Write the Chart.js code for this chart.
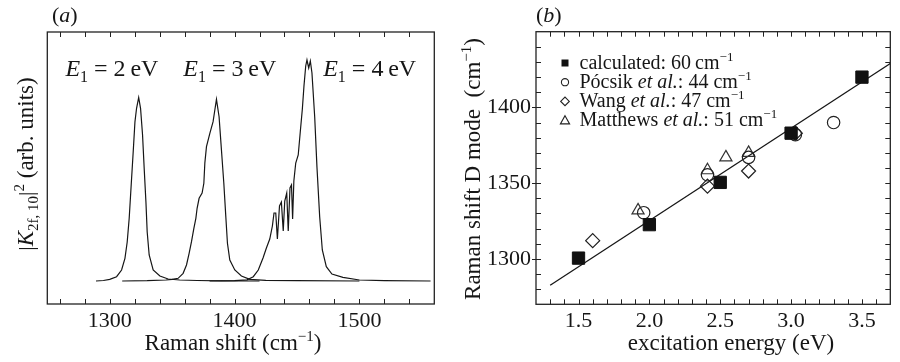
<!DOCTYPE html>
<html><head><meta charset="utf-8">
<script src="https://cdn.jsdelivr.net/npm/chart.js"></script>
<style>
html,body{margin:0;padding:0;background:#fff;width:900px;height:362px;overflow:hidden}
.w{position:absolute;top:0;width:450px;height:362px}
#wa{left:0}#wb{left:450px}
</style></head><body>
<div class="w" id="wa"><canvas id="ca" width="450" height="362"></canvas></div>
<div class="w" id="wb"><canvas id="cb" width="450" height="362"></canvas></div>
<script>
// ---------- Panel (a): spectra ----------
const shiftE2 = [1289,1295,1300,1305.5,1309.5,1312.2,1314,1315.6,1317.2,1318.8,1320.2,1321.5,1323.2,1324.7,1326.3,1327.6,1329,1330,1331.6,1334.8,1340.2,1346.8,1356,1370,1390,1420];
const intE2   = [0,0.5,1.7,4.3,11,22.7,39,62.7,96,129,159,172.7,183.5,172.7,146,112.7,79.3,49.3,26,11,5,2,1,0.5,0.2,0];
const shiftE3 = [1310,1330,1345,1350,1354.8,1358.8,1361.5,1363.6,1365.5,1367.4,1369,1370,1371.6,1374,1375.4,1376.2,1377.5,1380.2,1382.8,1384.2,1385.5,1387.6,1389.5,1391.4,1393,1394.3,1396.2,1400.2,1405.5,1412.2,1425,1450,1500];
const intE3   = [0,0.3,1,1.7,2.7,7.7,16,27.7,39.3,52.7,62.7,72.7,82.7,88,97.7,118,134.3,147.7,159.3,171,181.7,164.3,131,97.7,64.3,37.7,21,11,5,1.7,0.7,0.3,0];
const shiftE4 = [1380,1400,1410,1415,1419,1422.8,1425.5,1428.2,1430.3,1431.6,1433,1434.3,1436,1437.5,1439,1440.2,1441.8,1443,1444.4,1445.6,1446.5,1447.5,1449,1451,1452.7,1454.3,1455.6,1457,1458,1459.4,1460.7,1462,1464.2,1466,1468.2,1470.3,1473.5,1478,1486.8,1500,1520,1557];
const intE4   = [0,0.3,1.2,4.3,11,23,33,42,55,68,68,42,75,79,50,80,88,50,93,96,62,100,118,126,150,172,195,215,221,213,220,208,164,114,64,31,14.3,7,3.7,1,0.3,0];
const shiftTickLabels = [1300,1400,1500];
const shiftMinorTicks = [1260,1280,1300,1320,1340,1360,1380,1400,1420,1440,1460,1480,1500,1520,1540];
const peakLabels = ['2','3','4'];
const peakLabelX = [1264.5,1359,1471];

// ---------- Panel (b): D mode dispersion ----------
const calcE = [1.5,2.0,2.5,3.0,3.5];
const calcD = [1300.5,1322.6,1350.5,1383,1420];
const pocsikE = [1.96,2.41,2.7,3.03,3.3];
const pocsikD = [1330.5,1355.5,1367,1382,1390];
const wangE = [1.6,2.41,2.7,3.03];
const wangD = [1312,1348,1358,1383];
const matthewsE = [1.92,2.41,2.54,2.7];
const matthewsD = [1332,1358.5,1367,1370];
const fitE = [1.3,3.7];
const fitD = [1282.6,1429];
const energyTickLabels = [1.5,2.0,2.5,3.0,3.5];
const energyMinorTicks = [1.3,1.4,1.5,1.6,1.7,1.8,1.9,2.0,2.1,2.2,2.3,2.4,2.5,2.6,2.7,2.8,2.9,3.0,3.1,3.2,3.3,3.4,3.5,3.6];
const ramanTickLabels = [1300,1350,1400];
const ramanMinorTicks = [1280,1290,1300,1310,1320,1330,1340,1350,1360,1370,1380,1390,1400,1410,1420,1430,1440];
const legendNames = ['calculated','Pócsik','Wang','Matthews'];
const legendWidths = ['60','44','47','51'];

const FAM = '"Liberation Serif", "DejaVu Serif", serif';
const INK = '#161616';
function fontOf(r){ return (r.it?'italic ':'') + r.s + 'px ' + FAM; }
function runsWidth(ctx, runs){ let w=0; for(const r of runs){ ctx.font=fontOf(r); w+=ctx.measureText(r.t).width; } return w; }
function drawRuns(ctx, runs, x, y, align){
  const w = runsWidth(ctx, runs);
  let cx = align==='center' ? x - w/2 : x;
  ctx.textBaseline='alphabetic'; ctx.textAlign='left';
  for(const r of runs){ ctx.font=fontOf(r); ctx.fillText(r.t, cx, y + (r.dy||0)); cx += ctx.measureText(r.t).width; }
}
function xy(xs, ys){ return xs.map((v,i)=>({x:v,y:ys[i]})); }

function frame(ctx, a){
  ctx.save(); ctx.strokeStyle='#222'; ctx.lineWidth=1.3;
  ctx.strokeRect(a.left, a.top, a.right-a.left, a.bottom-a.top); ctx.restore();
}

// ---------- Chart A ----------
const plugA = {
  id:'plugA',
  afterDraw(chart){
    const ctx = chart.ctx, a = chart.chartArea, sx = chart.scales.x, sy = chart.scales.y;
    frame(ctx, a);
    ctx.save(); ctx.strokeStyle='#222'; ctx.lineWidth=1;
    ctx.beginPath();
    for(const v of shiftMinorTicks){
      const px = Math.round(sx.getPixelForValue(v))+0.5;
      ctx.moveTo(px, a.bottom); ctx.lineTo(px, a.bottom-5);
      ctx.moveTo(px, a.top); ctx.lineTo(px, a.top+5);
    }
    ctx.stroke(); ctx.restore();
    ctx.save(); ctx.fillStyle=INK;
    drawRuns(ctx, [{t:'(',s:22},{t:'a',s:22,it:true},{t:')',s:22}], 52, 21.5, 'left');
    const by = sy.getPixelForValue(205);
    peakLabels.forEach((t,i)=>{
      drawRuns(ctx, [{t:'E',s:24,it:true},{t:'1',s:16,dy:6},{t:' = ',s:24},{t:t+'\u2009eV',s:24}], sx.getPixelForValue(peakLabelX[i]), by, 'left');
    });
    drawRuns(ctx, [{t:'Raman shift (cm',s:23},{t:'\u22121',s:15,dy:-9},{t:')',s:23}], 233, 350, 'center');
    ctx.translate(33, 164); ctx.rotate(-Math.PI/2);
    drawRuns(ctx, [{t:'|',s:22},{t:'K',s:23,it:true},{t:'2f, 10',s:15,dy:5},{t:'|',s:22},{t:'2',s:15,dy:-9},{t:' (arb. units)',s:23}], 0, 0, 'center');
    ctx.restore();
  }
};
const lineStyle = {borderColor:INK, borderWidth:1.2, pointRadius:0, tension:0, fill:false};
new Chart(document.getElementById('ca'), {
  type:'line',
  data:{datasets:[
    Object.assign({label:'E1 = 2 eV', data:xy(shiftE2,intE2)}, lineStyle),
    Object.assign({label:'E1 = 3 eV', data:xy(shiftE3,intE3)}, lineStyle),
    Object.assign({label:'E1 = 4 eV', data:xy(shiftE4,intE4)}, lineStyle)
  ]},
  options:{
    responsive:false, animation:false, devicePixelRatio:1,
    layout:{padding:{left:47.3,right:15.7,top:32,bottom:0}},
    plugins:{legend:{display:false},tooltip:{enabled:false}},
    scales:{
      x:{type:'linear',min:1250,max:1560,
        grid:{display:false,drawTicks:false}, border:{display:false},
        afterBuildTicks:(s)=>{ s.ticks = shiftTickLabels.map(v=>({value:v})); },
        afterFit:(s)=>{ s.height = 58; },
        ticks:{autoSkip:false,maxRotation:0,padding:4,color:INK,font:{family:FAM,size:22},callback:(v)=>String(v)}
      },
      y:{type:'linear',min:-23,max:249,display:false}
    }
  },
  plugins:[plugA]
});

// ---------- Chart B (canvas offset 450 px) ----------
function legendMarker(ctx, style, x, y){
  ctx.save(); ctx.strokeStyle='#222'; ctx.fillStyle='#111'; ctx.lineWidth=1.1;
  ctx.beginPath();
  if(style==='rect'){ ctx.rect(x-3.5,y-3.5,7,7); ctx.fill(); }
  else if(style==='circle'){ ctx.arc(x,y,3.6,0,Math.PI*2); ctx.stroke(); }
  else if(style==='rectRot'){ ctx.moveTo(x-4.3,y); ctx.lineTo(x,y-4.3); ctx.lineTo(x+4.3,y); ctx.lineTo(x,y+4.3); ctx.closePath(); ctx.stroke(); }
  else { ctx.moveTo(x,y-4.8); ctx.lineTo(x+4.6,y+3.4); ctx.lineTo(x-4.6,y+3.4); ctx.closePath(); ctx.stroke(); }
  ctx.restore();
}
const plugB = {
  id:'plugB',
  afterDraw(chart){
    const ctx = chart.ctx, a = chart.chartArea, sx = chart.scales.x, sy = chart.scales.y;
    frame(ctx, a);
    ctx.save(); ctx.strokeStyle='#222'; ctx.lineWidth=1;
    ctx.beginPath();
    for(const v of energyMinorTicks){
      const px = Math.round(sx.getPixelForValue(v))+0.5;
      ctx.moveTo(px, a.bottom); ctx.lineTo(px, a.bottom-5);
      ctx.moveTo(px, a.top); ctx.lineTo(px, a.top+5);
    }
    for(const v of ramanMinorTicks){
      const py = Math.round(sy.getPixelForValue(v))+0.5;
      const major = ramanTickLabels.includes(v);
      ctx.moveTo(a.left - (major?4:0), py); ctx.lineTo(a.left+5, py);
      ctx.moveTo(a.right, py); ctx.lineTo(a.right-5, py);
    }
    ctx.stroke(); ctx.restore();
    ctx.save(); ctx.fillStyle=INK;
    drawRuns(ctx, [{t:'(',s:22},{t:'b',s:22,it:true},{t:')',s:22}], a.left, 21.5, 'left');
    const styles = ['rect','circle','rectRot','triangle'];
    const base = [68.5, 87.7, 106.9, 126];
    const lx = a.left + 29, tx = a.left + 43.5;
    legendNames.forEach((n,i)=>{
      legendMarker(ctx, styles[i], lx, base[i]-5.5);
      const runs = i===0 ? [{t:n+': '+legendWidths[i]+'\u2009cm',s:20}]
        : [{t:n+' ',s:20},{t:'et al.',s:20,it:true},{t:': '+legendWidths[i]+' cm',s:20}];
      runs.push({t:'\u22121',s:13,dy:-8});
      ctx.fillStyle=INK;
      drawRuns(ctx, runs, tx, base[i], 'left');
    });
    drawRuns(ctx, [{t:'excitation energy (eV)',s:23}], 281, 350, 'center');
    ctx.translate(30, 169); ctx.rotate(-Math.PI/2);
    drawRuns(ctx, [{t:'Raman shift D mode\u2002(cm',s:23},{t:'\u22121',s:15,dy:-9},{t:')',s:23}], 0, 0, 'center');
    ctx.restore();
  }
};
const open = 'rgba(0,0,0,0)';
new Chart(document.getElementById('cb'), {
  type:'scatter',
  data:{datasets:[
    {label:'calculated', data:xy(calcE,calcD), pointStyle:'rect', pointRadius:8.7, backgroundColor:'#111', borderColor:'#111', borderWidth:1},
    {label:'Pócsik et al.', data:xy(pocsikE,pocsikD), pointStyle:'circle', pointRadius:6.2, backgroundColor:open, borderColor:'#222', borderWidth:1.2},
    {label:'Wang et al.', data:xy(wangE,wangD), pointStyle:'rectRot', pointRadius:7, backgroundColor:open, borderColor:'#222', borderWidth:1.2},
    {label:'Matthews et al.', data:xy(matthewsE,matthewsD), pointStyle:'triangle', pointRadius:7, backgroundColor:open, borderColor:'#333', borderWidth:1.2},
    {label:'fit', data:xy(fitE,fitD), showLine:true, pointRadius:0, borderColor:INK, borderWidth:1.3, tension:0}
  ]},
  options:{
    responsive:false, animation:false, devicePixelRatio:1,
    layout:{padding:{left:0,right:4.3,top:31.7,bottom:0}},
    plugins:{legend:{display:false},tooltip:{enabled:false}},
    scales:{
      x:{type:'linear',min:1.2,max:3.7,
        grid:{display:false,drawTicks:false}, border:{display:false},
        afterBuildTicks:(s)=>{ s.ticks = energyTickLabels.map(v=>({value:v})); },
        afterFit:(s)=>{ s.height = 57.7; },
        ticks:{autoSkip:false,maxRotation:0,padding:4,color:INK,font:{family:FAM,size:22},callback:(v)=>Number(v).toFixed(1)}
      },
      y:{type:'linear',min:1270,max:1450,
        grid:{display:false,drawTicks:false}, border:{display:false},
        afterBuildTicks:(s)=>{ s.ticks = ramanTickLabels.map(v=>({value:v})); },
        afterFit:(s)=>{ s.width = 86; },
        ticks:{autoSkip:false,padding:5,color:INK,font:{family:FAM,size:22},callback:(v)=>String(v)}
      }
    }
  },
  plugins:[plugB]
});
</script>
</body></html>
